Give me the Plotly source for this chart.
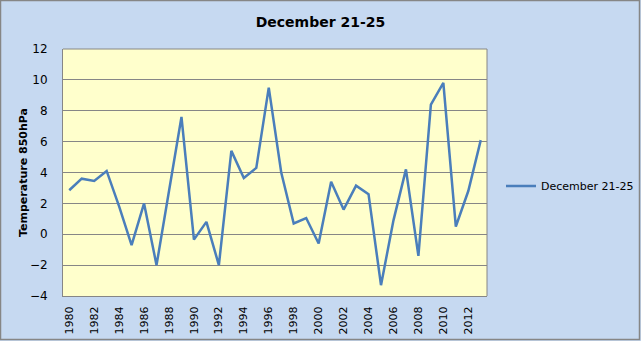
import plotly.graph_objects as go

years = list(range(1980, 2014))
temps = [2.85, 3.6, 3.45, 4.1, 1.8, -0.7, 2.0, -2.0, 2.8, 7.6,
         -0.35, 0.8, -2.0, 5.4, 3.65, 4.3, 9.5, 4.0, 0.7, 1.05,
         -0.6, 3.4, 1.6, 3.15, 2.6, -3.3, 0.9, 4.2, -1.4, 8.4,
         9.8, 0.5, 2.8, 6.1]
tick_years = list(range(1980, 2013, 2))

W, H = 641, 341
ml, mr, mt, mb = 63, 154, 49, 45
pw, ph = W - ml - mr, H - mt - mb

fig = go.Figure()
fig.add_trace(go.Scatter(x=years, y=temps, mode="lines", name="December 21-25",
                         line=dict(color="#4A7EBB", width=2.5)))

fig.update_layout(
    width=W, height=H,
    margin=dict(l=ml, r=mr, t=mt, b=mb, autoexpand=False),
    paper_bgcolor="#C6D9F1", plot_bgcolor="#FFFFCC",
    font=dict(family="DejaVu Sans", size=11, color="#000000"),
    title=dict(text="<b>December 21-25</b>", x=0.5, xref="container", xanchor="center",
               y=1 - 22 / H, yanchor="middle", font=dict(size=14)),
    showlegend=True,
    legend=dict(x=(501 - ml) / pw, xanchor="left", y=(mt + ph - 186) / ph, yanchor="middle",
                bgcolor="rgba(0,0,0,0)", font=dict(size=11)),
    xaxis=dict(range=[1979.5, 2013.5], tickvals=tick_years, ticktext=[str(t) for t in tick_years],
               tickangle=-90, showgrid=False, showline=True, linecolor="#868686", linewidth=1,
               ticks="outside", ticklen=5, tickcolor="rgba(0,0,0,0)", zeroline=False,
               tickfont=dict(size=11), automargin=False),
    yaxis=dict(range=[-4, 12], dtick=2, showgrid=True, gridcolor="#868686", gridwidth=1,
               showline=True, linecolor="#868686", linewidth=1, zeroline=False,
               ticks="outside", ticklen=12, tickcolor="rgba(0,0,0,0)",
               tickfont=dict(size=12), automargin=False,
               title=dict(text="<b>Temperature 850hPa</b>", font=dict(size=11), standoff=0)),
)
fig.add_shape(type="line", xref="paper", yref="paper", x0=0, x1=1, y0=1, y1=1,
              line=dict(color="#868686", width=1))
fig.add_shape(type="line", xref="paper", yref="paper", x0=1, x1=1, y0=0, y1=1,
              line=dict(color="#868686", width=1))
fig.add_shape(type="rect", xref="paper", yref="paper",
              x0=-ml / pw + 0.5 / pw, x1=1 + (mr - 1.5) / pw,
              y0=-(mb - 1.5) / ph, y1=1 + (mt - 0.5) / ph,
              line=dict(color="#868686", width=1.5), layer="above")

fig.write_html("out.html")
